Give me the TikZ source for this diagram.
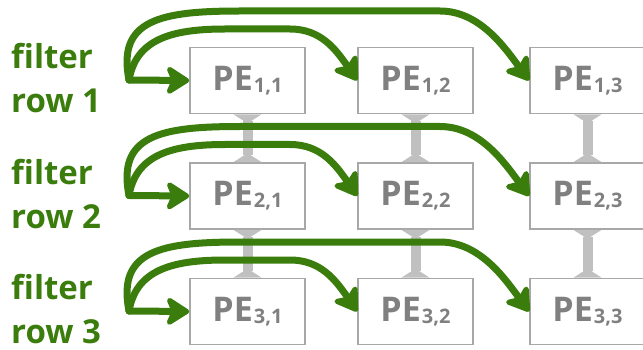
\documentclass[tikz,border=0pt]{standalone}
\usepackage{fontspec}
\setsansfont{Open Sans}
\usetikzlibrary{arrows.meta}

\definecolor{feedgreen}{HTML}{3A7D0C}
\definecolor{boxgray}{HTML}{A8A8A8}
\definecolor{textgray}{HTML}{808080}
\definecolor{linkgray}{HTML}{C0C0C0}

% PE label with a lowered index
\newcommand\pelabel[1]{PE\kern1pt\raisebox{-2pt}{\fontsize{20}{20}\selectfont#1}}

\tikzset{
  pebox/.style={draw=boxgray, fill=white, line width=1.6pt, minimum width=115pt,
    minimum height=66pt, inner sep=0pt, text=textgray,
    font=\sffamily\bfseries\fontsize{34}{34}\selectfont},
  rowlabel/.style={anchor=west, align=left, inner sep=0pt, text=feedgreen,
    font=\sffamily\bfseries\fontsize{33}{44}\selectfont},
  link/.style={draw=linkgray, line width=10pt,
    {Triangle[reversed,length=9pt,width=28pt]}-{Triangle[reversed,length=9pt,width=28pt]}},
  feed/.style={draw=feedgreen, line width=7pt, line cap=round,
    -{Stealth[length=27pt,width=34pt,inset=7pt,round]}}
}

\begin{document}
\begin{tikzpicture}[x=1pt,y=-1pt]
    \useasboundingbox (0,0) rectangle (643,350);

    % PE array and row labels
    \foreach \r/\yc in {1/80.5,2/196,3/311.5} {
        \node[rowlabel] (label\r) at (11,\yc-2) {filter\\row \r};
        \foreach \c/\xc in {1/247.5,2/415.5,3/587.5}
            \node[pebox] (pe\r\c) at (\xc,\yc) {\pelabel{\r,\c}};
    }

    % vertical links between rows
    \foreach \c in {1,2,3} {
        \draw[link] (pe1\c.south) -- (pe2\c.north);
        \draw[link] (pe2\c.south) -- (pe3\c.north);
    }

    % filter rows fed to every PE of the row
    \foreach \r/\yo in {1/0,2/115.5,3/231} {
        \begin{scope}[shift={(0,\yo)}]
        \coordinate (src\r) at (129,80);
        \draw[feed] (src\r) -- (pe\r1.west);
        \draw[feed] (src\r) .. controls (136,40) and (170,29) .. (225,29)
            -- (290,29) .. controls (320,29) and (335,48) .. (pe\r2.west);
        \draw[feed] (src\r) .. controls (117,20) and (160,11) .. (240,11)
            -- (440,11) .. controls (480,11) and (505,48) .. (pe\r3.west);
        \end{scope}
    }
\end{tikzpicture}
\end{document}
